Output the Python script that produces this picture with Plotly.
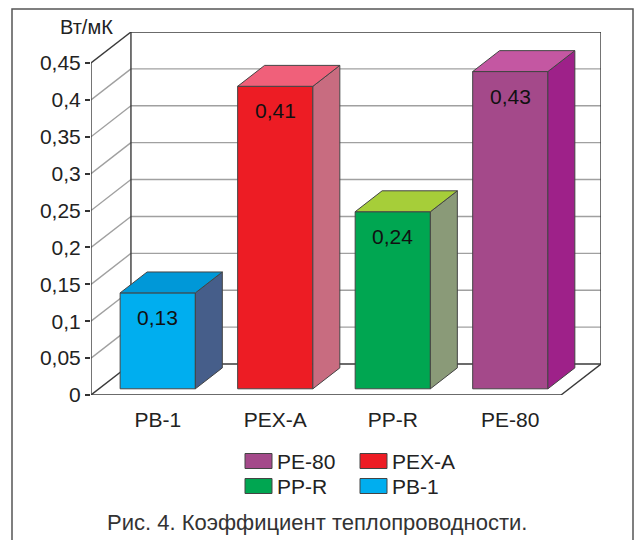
import plotly.graph_objects as go

# --- data -------------------------------------------------------------
categories = ["PB-1", "PEX-A", "PP-R", "PE-80"]
values = [0.13, 0.41, 0.24, 0.43]
front_colors = ["#00AEEF", "#ED1C24", "#00A651", "#A4498A"]
top_colors = ["#0098D8", "#F0607A", "#A6CE39", "#C457A2"]
side_colors = ["#465E8A", "#C86C80", "#8A9A78", "#9E2189"]
y_tick_vals = [0, 0.05, 0.1, 0.15, 0.2, 0.25, 0.3, 0.35, 0.4, 0.45]
y_tick_text = ["0", "0,05", "0,1", "0,15", "0,2", "0,25", "0,3", "0,35", "0,4", "0,45"]
legend_order = ["PE-80", "PEX-A", "PP-R", "PB-1"]
unit_label = "Вт/мК"
caption = "Рис. 4. Коэффициент теплопроводности."

# --- page / plot geometry ----------------------------------------------
W_PAGE, H_PAGE = 638, 540
M_L, M_R, M_T, M_B = 91, 37, 32, 145
PW = W_PAGE - M_L - M_R
PH = H_PAGE - M_T - M_B

# oblique depth of the box (in axis units)
DEPTH_X = 0.34      # category units
DEPTH_Y = 0.042     # value units
BAR_T0 = 0.2        # bar front depth fraction
BAR_T1 = 0.875      # bar back depth fraction
BAR_W = 0.64
Y_MAX = max(y_tick_vals)

x_front_left = -0.5 - BAR_T0 * DEPTH_X
x_back_left = x_front_left + DEPTH_X
x_back_right = len(categories) - 0.5 + (1 - BAR_T0) * DEPTH_X
x_front_right = x_back_right - DEPTH_X
x_range = [x_front_left, x_back_right]
y_range = [0, Y_MAX + DEPTH_Y]

FONT = "Liberation Sans, Arial, Helvetica, sans-serif"
FS = 21
DARK = "#3a3a3a"
GRID = "#a0a0a0"


def px_x(px):
    return (px - M_L) / PW


def px_y(py):
    return (H_PAGE - M_B - py) / PH


def fmt(v):
    return f"{v:g}".replace(".", ",")


fig = go.Figure()
shapes = []

# back wall and left wall grid
for v in y_tick_vals:
    edge = v in (0, Y_MAX)
    col = DARK if edge else GRID
    shapes.append(dict(type="line", xref="x", yref="y", layer="below",
                       x0=x_front_left, y0=v, x1=x_back_left, y1=v + DEPTH_Y,
                       line=dict(color=col, width=1.4)))
    shapes.append(dict(type="line", xref="x", yref="y", layer="below",
                       x0=x_back_left, y0=v + DEPTH_Y, x1=x_back_right, y1=v + DEPTH_Y,
                       line=dict(color=col, width=1.4)))
# wall verticals, front axis and floor edges
for x0, y0, x1, y1 in [
    (x_back_left, DEPTH_Y, x_back_left, Y_MAX + DEPTH_Y),
    (x_back_right, DEPTH_Y, x_back_right, Y_MAX + DEPTH_Y),
    (x_front_left, 0, x_front_left, Y_MAX),
    (x_front_left, 0, x_front_right, 0),
    (x_front_right, 0, x_back_right, DEPTH_Y),
]:
    shapes.append(dict(type="line", xref="x", yref="y", layer="below",
                       x0=x0, y0=y0, x1=x1, y1=y1,
                       line=dict(color=DARK, width=1.4)))

# 3D bars: side and top faces as polygons, front faces as bars
base = BAR_T0 * DEPTH_Y
dx = (BAR_T1 - BAR_T0) * DEPTH_X
dy = (BAR_T1 - BAR_T0) * DEPTH_Y
for i, (cat, v) in enumerate(zip(categories, values)):
    xl, xr = i - BAR_W / 2, i + BAR_W / 2
    top = base + v
    fig.add_trace(go.Scatter(
        x=[xr, xr, xr + dx, xr + dx, xr], y=[base, top, top + dy, base + dy, base],
        mode="lines", fill="toself", fillcolor=side_colors[i],
        line=dict(color="#444", width=1), hoverinfo="skip", showlegend=False))
    fig.add_trace(go.Scatter(
        x=[xl, xr, xr + dx, xl + dx, xl], y=[top, top, top + dy, top + dy, top],
        mode="lines", fill="toself", fillcolor=top_colors[i],
        line=dict(color="#444", width=1), hoverinfo="skip", showlegend=False))

fig.add_trace(go.Bar(
    x=list(range(len(categories))), y=values, base=base, width=BAR_W,
    marker=dict(color=front_colors, line=dict(color="#444", width=1)),
    hovertext=categories, showlegend=False))

annotations = []
for i, v in enumerate(values):
    annotations.append(dict(x=i, y=base + v, xref="x", yref="y", text=fmt(v),
                            showarrow=False, yanchor="top", yshift=-11,
                            font=dict(family=FONT, size=FS, color="#111")))

# unit label
annotations.append(dict(x=px_x(86), y=px_y(27), xref="paper", yref="paper",
                        text=unit_label, showarrow=False,
                        xanchor="center", yanchor="middle",
                        font=dict(family=FONT, size=FS - 1, color="#222")))

# legend (2 x 2)
legend_pos = [(245, 461), (360, 461), (245, 486), (360, 486)]
color_of = dict(zip(categories, front_colors))
for name, (lx, ly) in zip(legend_order, legend_pos):
    shapes.append(dict(type="rect", xref="paper", yref="paper",
                       x0=px_x(lx), x1=px_x(lx + 27), y0=px_y(ly - 7.5), y1=px_y(ly + 7.5),
                       fillcolor=color_of[name], line=dict(color="#444", width=1)))
    annotations.append(dict(x=px_x(lx + 30), y=px_y(ly), xref="paper", yref="paper",
                            text=name, showarrow=False, xanchor="left", yanchor="middle",
                            font=dict(family=FONT, size=FS, color="#222")))

# caption
annotations.append(dict(x=px_x(317), y=px_y(522), xref="paper", yref="paper",
                        text=caption, showarrow=False,
                        xanchor="center", yanchor="middle",
                        font=dict(family=FONT, size=22, color="#333")))

# outer frame
shapes.append(dict(type="rect", xref="paper", yref="paper", layer="below",
                   x0=px_x(12), x1=px_x(633), y0=px_y(560), y1=px_y(9),
                   line=dict(color="#555", width=1.5)))

fig.update_layout(
    width=W_PAGE, height=H_PAGE,
    margin=dict(l=M_L, r=M_R, t=M_T, b=M_B, pad=0),
    paper_bgcolor="white", plot_bgcolor="white",
    barmode="overlay", showlegend=False,
    shapes=shapes, annotations=annotations,
    font=dict(family=FONT, color="#222"),
    xaxis=dict(range=x_range, tickvals=list(range(len(categories))), ticktext=categories,
               showgrid=False, zeroline=False, showline=False, ticks="",
               ticklabelstandoff=10,
               tickfont=dict(family=FONT, size=FS, color="#222"), fixedrange=True),
    yaxis=dict(range=y_range, tickvals=y_tick_vals, ticktext=y_tick_text,
               showgrid=False, zeroline=False, showline=False,
               ticks="outside", ticklen=5, tickwidth=1.5, tickcolor="#333",
               tickfont=dict(family=FONT, size=FS, color="#222"), fixedrange=True),
)

fig.write_html("out.html", config={"displayModeBar": False})
